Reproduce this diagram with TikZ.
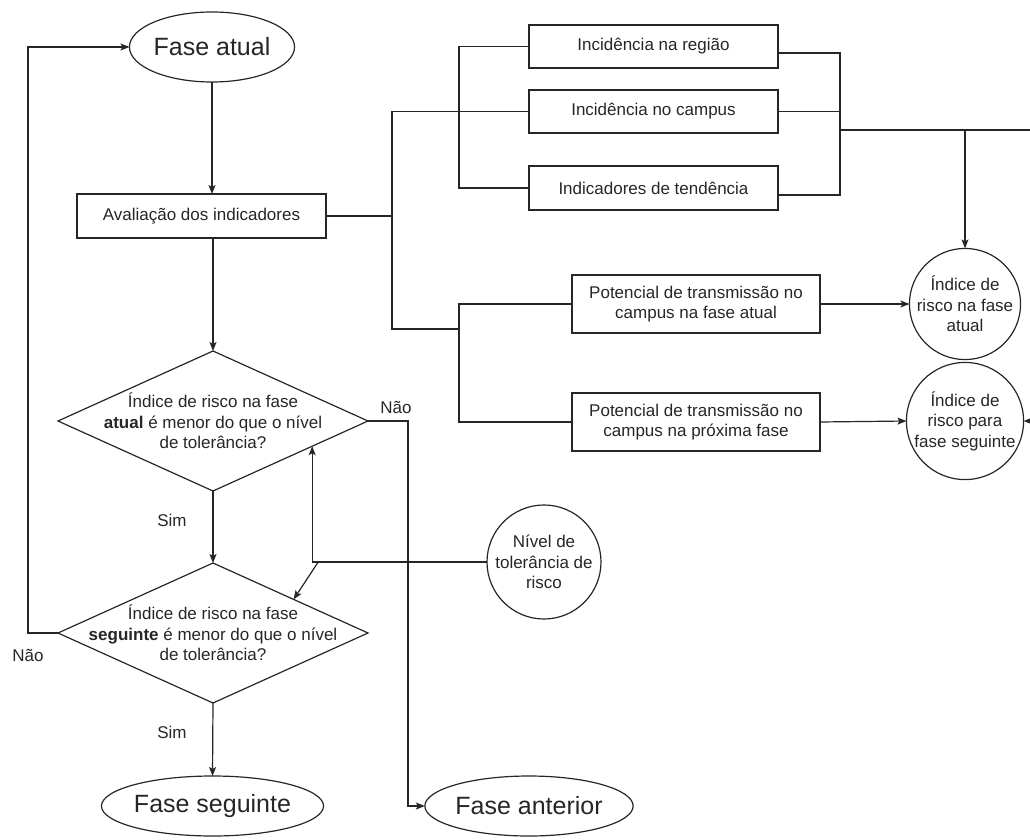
\documentclass[tikz,border=0pt]{standalone}
\usepackage{fontspec}
\setmainfont{Liberation Sans}
\usetikzlibrary{shapes.geometric,arrows.meta,calc}
\colorlet{ln}{black!85}
\begin{document}
\begin{tikzpicture}[x=1pt,y=-1pt,
  line width=1.2pt, color=ln,
  every node/.style={inner sep=0pt, outer sep=0pt},
  small/.style={font=\fontsize{17}{20.5}\selectfont},
  big/.style={font=\fontsize{25}{30}\selectfont},
  boxA/.style={draw, rectangle, minimum width=249pt, small, align=center},
  ell/.style={draw, ellipse, big},
  circ/.style={draw, circle, minimum size=108pt, small, align=center},
  dia/.style={draw, diamond, minimum width=310pt, minimum height=140pt},
  dtext/.style={small, align=center},
  arr/.style={-{Stealth[length=9pt,width=7pt,inset=2pt]}},
  lbl/.style={small}
]
\useasboundingbox (0,0) rectangle (1030,840);

% nodes
\node[ell, minimum width=150pt, minimum height=70pt] (fa) at (212,47) {Fase atual};
\node[boxA, minimum height=44pt] (aval) at (201.5,216) {Avaliação dos indicadores};
\node[boxA, minimum height=43pt] (ir) at (653.5,46.5) {Incidência na região};
\node[boxA, minimum height=43pt] (ic) at (653.5,111.5) {Incidência no campus};
\node[boxA, minimum height=44pt] (it) at (653.5,188) {Indicadores de tendência};
\node[boxA, minimum width=248pt, minimum height=58pt] (p1) at (696,304) {Potencial de transmissão no\\campus na fase atual};
\node[boxA, minimum width=248pt, minimum height=58pt] (p2) at (696,422) {Potencial de transmissão no\\campus na próxima fase};
\node[circ] (c1) at (965,304) {Índice de\\risco na fase\\atual};
\node[circ] (c2) at (965,421) {Índice de\\risco para\\fase seguinte};
\node[circ, minimum size=114pt] (niv) at (544,562) {Nível de\\tolerância de\\risco};
\node[dia] (d1) at (213,421) {};
\node[dtext] (d1t) at (d1) {Índice de risco na fase\\\textbf{atual} é menor do que o nível\\de tolerância?};
\node[dia] (d2) at (213,633) {};
\node[dtext] (d2t) at (d2) {Índice de risco na fase\\\textbf{seguinte} é menor do que o nível\\de tolerância?};
\node[ell, minimum width=193pt, minimum height=60pt] (fseg) at (212.5,806) {Fase seguinte};
\node[ell, minimum width=176pt, minimum height=60pt] (fant) at (529,806) {Fase anterior};

% labels
\node[lbl] (nao1) at (396,407) {Não};
\node[lbl] (sim1) at (172,520) {Sim};
\node[lbl] (sim2) at (172,732) {Sim};
\node[lbl] (nao2) at (28,655) {Não};

% helper coordinates
\coordinate (busA) at (392,329);
\coordinate (busB) at (459,329);
\coordinate (busC) at (459,0);
\coordinate (rb) at (840,130);
\coordinate (redge) at (1040,130);
\coordinate (t1) at ($(d1.east)!0.36!(d1.south)$);
\coordinate (t2) at ($(d2.north)!0.52!(d2.east)$);
\coordinate (nk) at (niv.west -| t1);

% main flow
\draw[arr] (fa.south) -- (fa.south |- aval.north);
\draw[arr] (d1 |- aval.south) -- (d1.north);
\draw[arr] (d1.south) -- (d2.north);
\draw[arr] (d2.south) -- (fseg.north);
\draw[arr] (d2.west) -- ++(-30,0) |- (fa.west);
\draw[arr] (d1.east) -- ++(40,0) |- (fant.west);

% indicator buses
\draw (aval.east) -- (aval.east -| busA);
\draw (ic.west) -| (busA) -- (busB);
\draw (ir.west) -| (busC |- it.west) -- (it.west);
\draw (p1.west) -| (busC |- p2.west) -- (p2.west);
\draw ($(ir.east)+(0,6.5)$) -| (rb);
\draw ($(it.east)+(0,7)$) -| (rb);
\draw (ic.east) -- (ic.east -| rb);
\draw[arr] (rb) -- (redge) |- (c2.east);
\draw[arr] (c1.north |- rb) -- (c1.north);
\draw[arr] (p1.east) -- (c1.west);
\draw[arr] (p2.east) -- (c2.west);

% tolerance
\draw[arr] (niv.west) -- (nk) -- (t1);
\draw[arr] ($(nk)+(6,0)$) -- (t2);
\end{tikzpicture}
\end{document}
